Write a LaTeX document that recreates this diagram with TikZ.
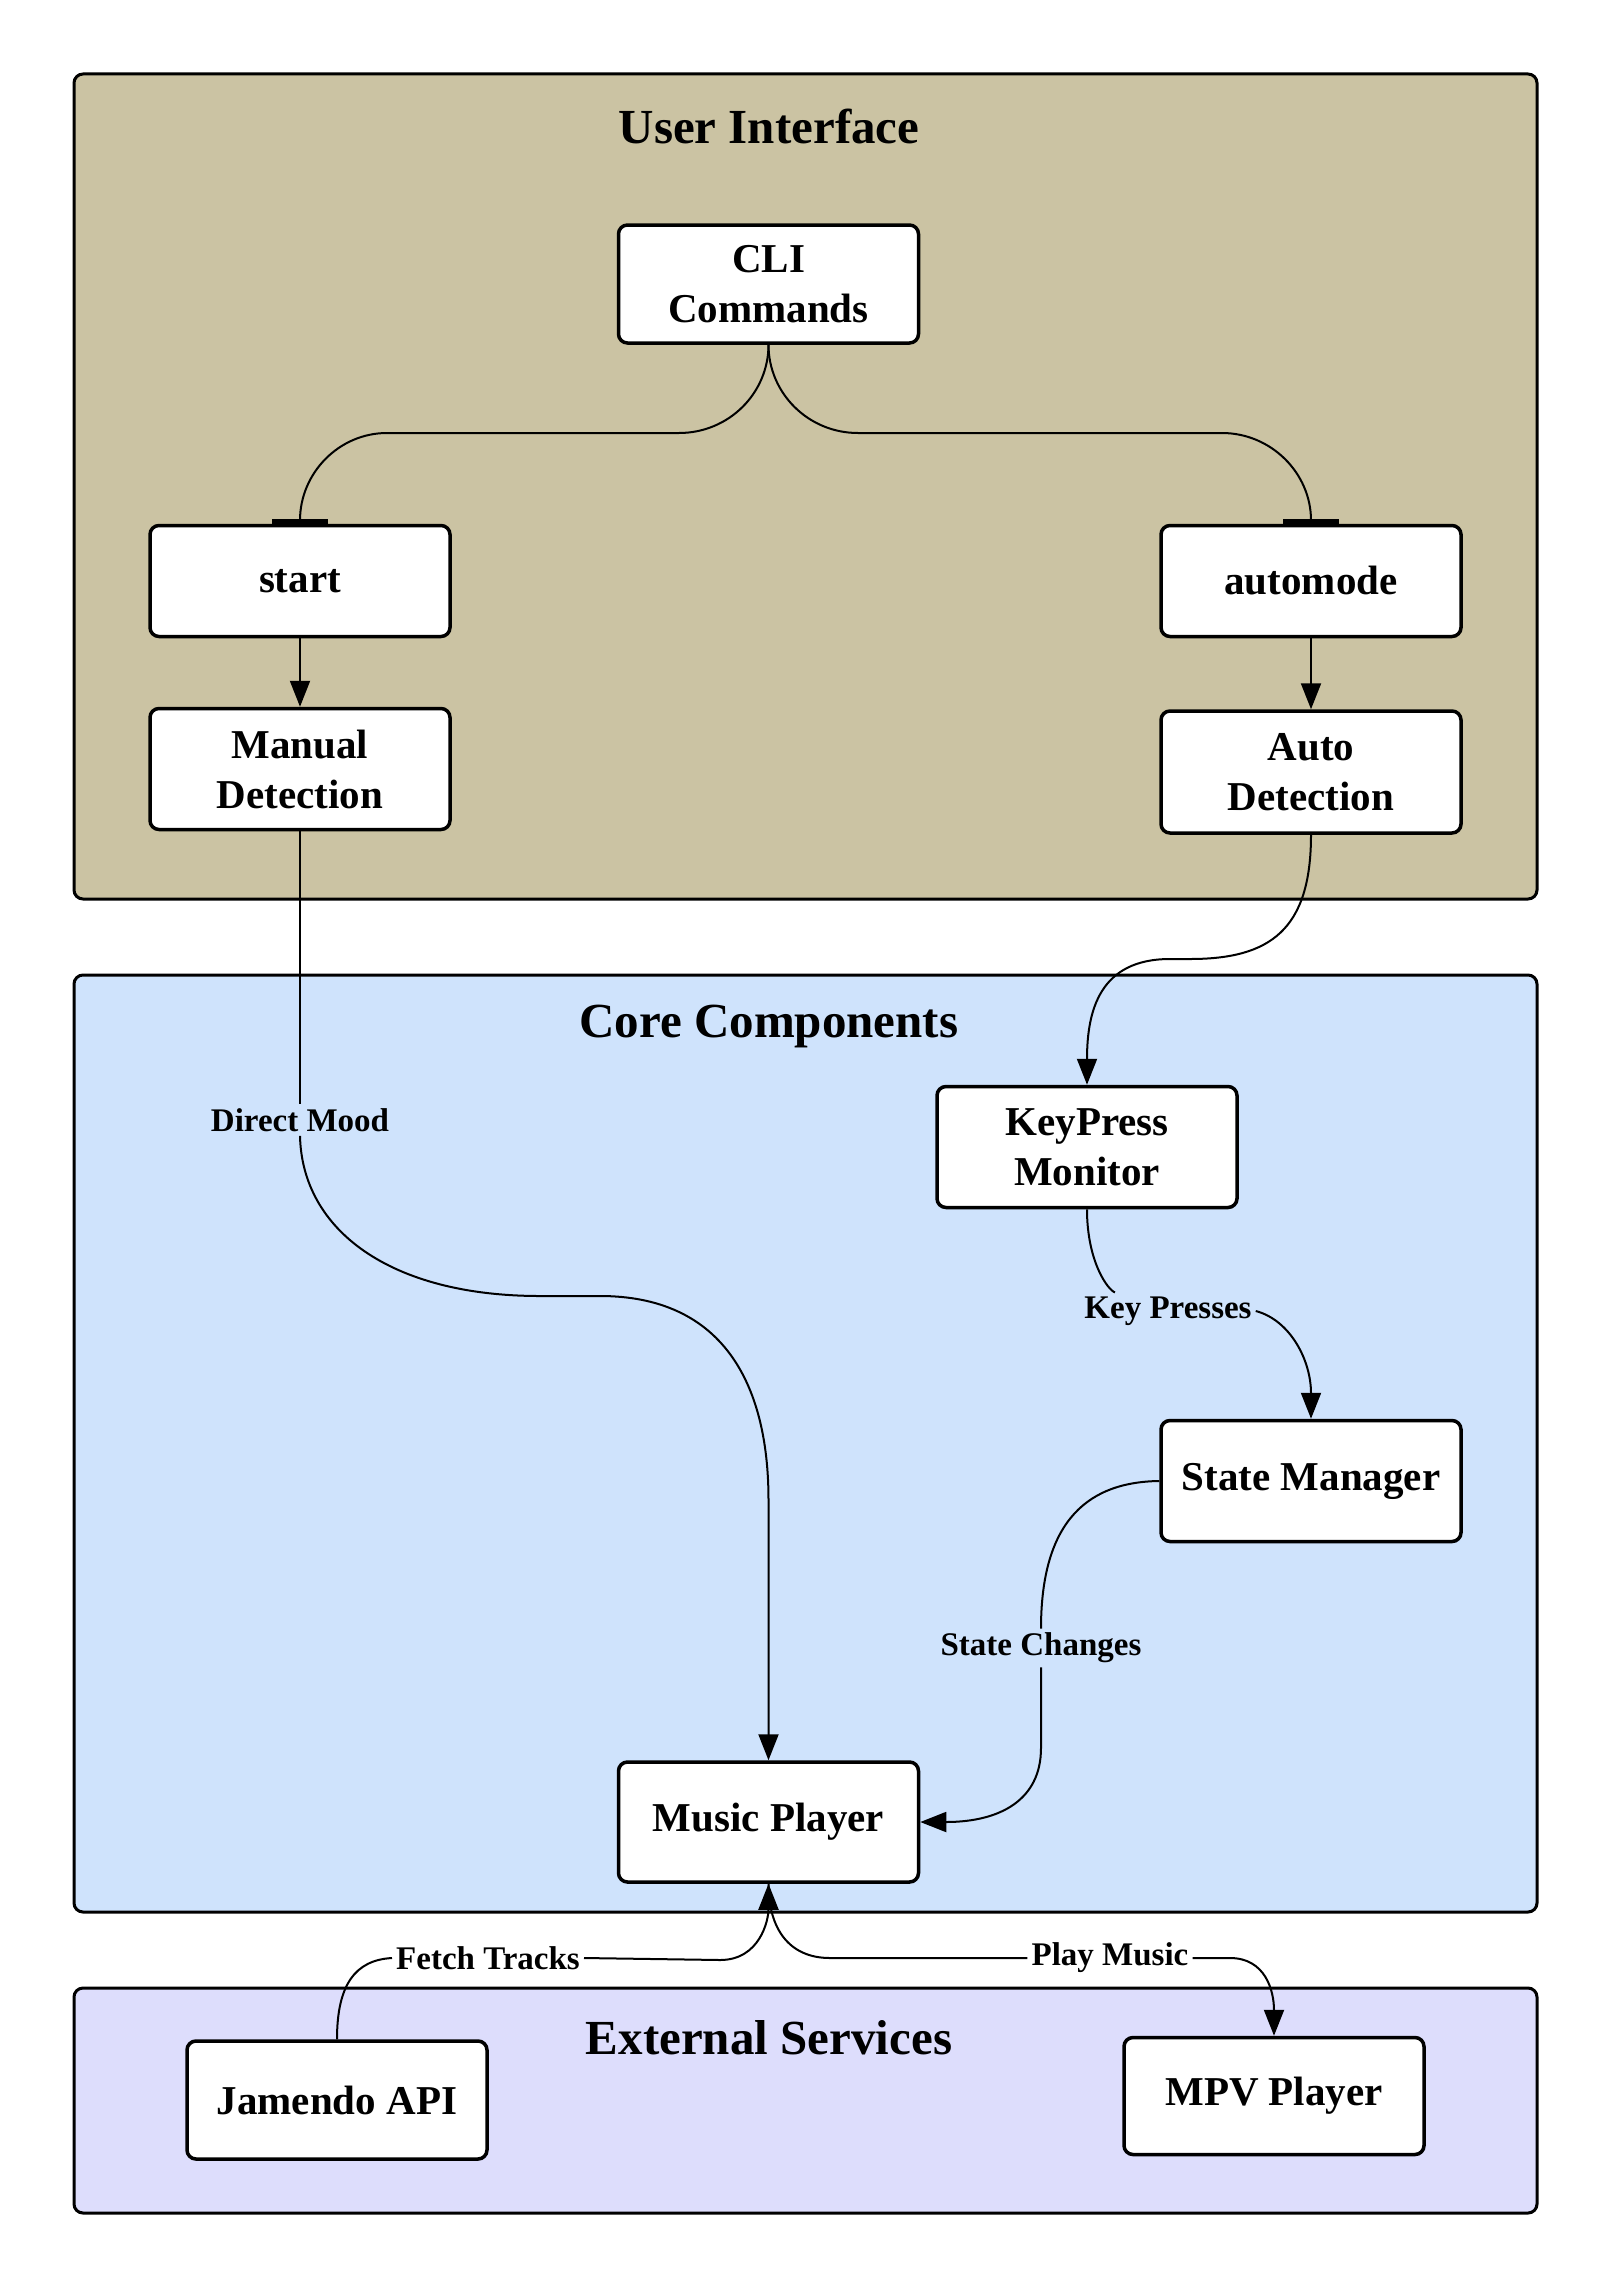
\documentclass[tikz,border=0pt]{standalone}
\usepackage{fontspec}
\setmainfont{Liberation Serif}
\usetikzlibrary{arrows.meta}
\definecolor{uibg}{HTML}{CBC3A3}
\definecolor{corebg}{HTML}{CFE3FC}
\definecolor{extbg}{HTML}{DDDDFC}
\begin{document}
\begin{tikzpicture}[x=1pt,y=-1pt,
 cluster/.style={draw,line width=3pt,rounded corners=9pt},
 box/.style={draw,line width=3.5pt,rounded corners=9pt,fill=white,minimum width=300pt,minimum height=118pt,inner sep=0pt,align=center,font=\fontsize{41}{50}\selectfont\bfseries},
 ttl/.style={font=\fontsize{49}{58}\selectfont\bfseries},
 lbl/.style={font=\fontsize{33}{40}\selectfont\bfseries,inner sep=4pt},
 conn/.style={line width=2pt},
 arr/.style={conn,-{Triangle[length=26pt,width=20pt]}},
 tee/.style={conn,-{Bar[width=56pt,line width=4.5pt]}}]
\useasboundingbox (0,0) rectangle (1613,2288);
\fill[white] (0,0) rectangle (1613,2288);
% clusters
\draw[cluster,fill=uibg] (74,74) rectangle (1537,899);
\draw[cluster,fill=corebg] (74,975) rectangle (1537,1912);
\draw[cluster,fill=extbg] (74,1988) rectangle (1537,2213);
\node[ttl] (tui) at (769,126) {User Interface};
\node[ttl] (tcore) at (769,1026) {Core Components};
\node[ttl] (text) at (769,2038) {External Services};
% nodes
\node[box] (cli) at (768.5,284) {CLI\\Commands};
\node[box,minimum height=111pt] (start) at (300,581) {start};
\node[box,minimum height=111pt] (automode) at (1311,581) {automode};
\node[box,minimum height=121pt] (manual) at (300,769) {Manual\\Detection};
\node[box,minimum height=122pt] (auto) at (1311,772) {Auto\\Detection};
\node[box,minimum height=121pt] (keypress) at (1087,1147) {KeyPress\\Monitor};
\node[box,minimum height=121pt] (state) at (1311,1481) {State Manager};
\node[box,minimum height=120pt] (music) at (768.5,1822) {Music Player};
\node[box] (jamendo) at (337,2100) {Jamendo API};
\node[box,minimum height=117pt] (mpv) at (1274,2096) {MPV Player};
% edge labels
\node[lbl] (l1) at (300,1120) {Direct Mood};
\node[lbl] (l2) at (1168,1311) {Key Presses};
\node[lbl] (l3) at (1041,1648) {State Changes};
\node[lbl] (l4) at (488,1958) {Fetch Tracks};
\node[lbl] (l5) at (1110,1958) {Play Music};
% connectors
\draw[tee] (cli.south) .. controls (768.5,393) and (729,433) .. (679,433) -- (387,433) .. controls (339,433) and (300,473) .. (start.north);
\draw[tee] (cli.south) .. controls (768.5,393) and (808,433) .. (858,433) -- (1222,433) .. controls (1271,433) and (1311,473) .. (automode.north);
\draw[arr] (start.south) -- (manual.north);
\draw[arr] (automode.south) -- (auto.north);
\draw[conn] (manual.south) -- (l1.north);
\draw[arr] (l1.south) .. controls (302,1230) and (390,1296) .. (540,1296) -- (600,1296) .. controls (720,1296) and (768.5,1380) .. (768.5,1500) -- (music.north);
\draw[arr] (auto.south) .. controls (1311,930) and (1270,959) .. (1190,959) -- (1170,959) .. controls (1100,959) and (1087,1010) .. (keypress.north);
\draw[conn] (keypress.south) .. controls (1087,1262) and (1108,1290) .. (l2);
\draw[arr] (l2.east) .. controls (1290,1320) and (1311,1360) .. (state.north);
\draw[conn] (state.west) .. controls (1080,1482) and (1041,1530) .. (l3.north);
\draw[arr] (l3.south) -- (1041,1748) .. controls (1041,1800) and (1000,1822) .. (music.east);
\draw[conn] (jamendo.north) .. controls (337,1985) and (355,1960) .. (l4.west);
\draw[arr] (l4.east) -- (720,1960) .. controls (760,1960) and (768.5,1920) .. (music.south);
\draw[conn] (music.south) .. controls (768.5,1930) and (790,1958) .. (830,1958) -- (l5.west);
\draw[arr] (l5.east) -- (1230,1958) .. controls (1265,1958) and (1274,1990) .. (mpv.north);
\end{tikzpicture}
\end{document}
